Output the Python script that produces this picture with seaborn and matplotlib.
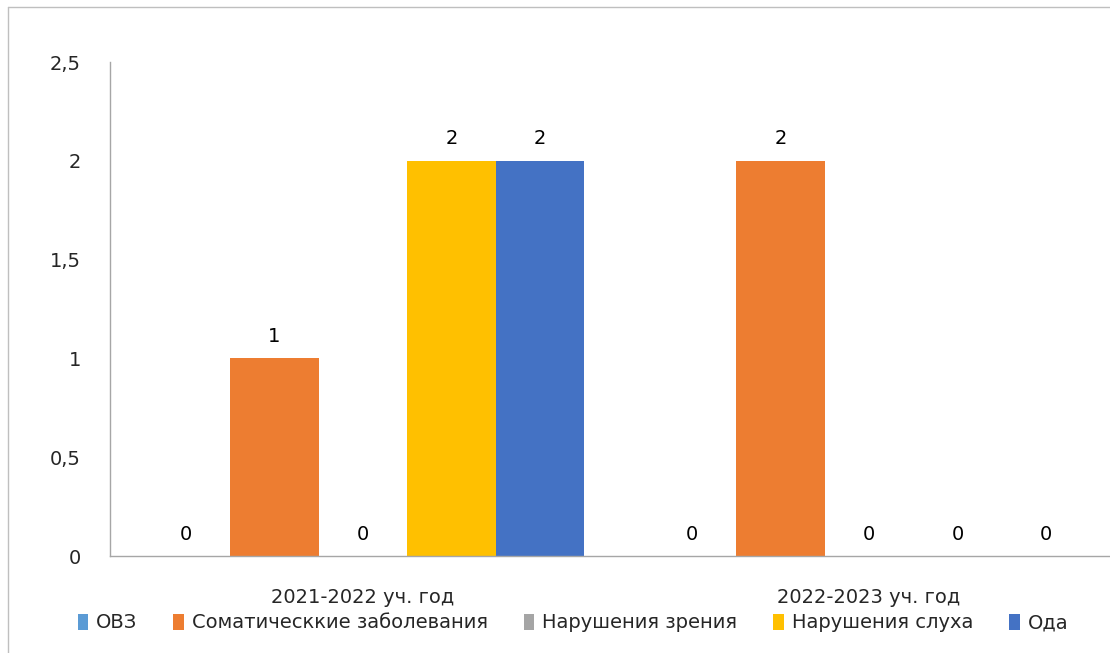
import matplotlib
matplotlib.use("Agg")
import matplotlib.pyplot as plt
import seaborn as sns
import pandas as pd
from matplotlib.lines import Line2D

categories = ["2021-2022 уч. год", "2022-2023 уч. год"]
series_names = ["ОВЗ", "Соматическкие заболевания", "Нарушения зрения", "Нарушения слуха", "Ода"]
ovz = [0, 0]
somatic = [1, 2]
vision = [0, 0]
hearing = [2, 0]
oda = [2, 0]
colors = ["#5B9BD5", "#ED7D31", "#A5A5A5", "#FFC000", "#4472C4"]
yticks = [0, 0.5, 1, 1.5, 2, 2.5]
ytick_labels = ["0", "0,5", "1", "1,5", "2", "2,5"]

values = [ovz, somatic, vision, hearing, oda]
rows = []
for name, vals in zip(series_names, values):
    for cat, v in zip(categories, vals):
        rows.append({"cat": cat, "series": name, "value": v})
df = pd.DataFrame(rows)

sns.set_style("white")
plt.rcParams["font.family"] = ["DejaVu Sans"]
FS = 14

fig = plt.figure(figsize=(11.1, 6.53), dpi=100)
ax = fig.add_axes([110 / 1110, 97 / 653, 1 - 110 / 1110, (556 - 62) / 653])

sns.barplot(data=df, x="cat", y="value", hue="series", order=categories,
            hue_order=series_names, palette=colors, width=0.875,
            saturation=1, ax=ax, legend=True, linewidth=0)

for cont in ax.containers:
    ax.bar_label(cont, labels=[f"{int(b.get_height())}" for b in cont],
                 padding=9, fontsize=FS, color="#000000")

ax.set_xlim(-0.5, 1.476)
ax.set_ylim(0, 2.5)
ax.set_yticks(yticks)
ax.set_yticklabels(ytick_labels, fontsize=FS)
ax.tick_params(axis="y", length=0, pad=21)
ax.tick_params(axis="x", length=0, pad=23, labelsize=FS)
ax.set_xlabel("")
ax.set_ylabel("")
for s in ["top", "right"]:
    ax.spines[s].set_visible(False)
for s in ["left", "bottom"]:
    ax.spines[s].set_color("#A6A6A6")
    ax.spines[s].set_linewidth(1)

handles, labels = ax.get_legend_handles_labels()
ax.get_legend().remove()
fig.legend(handles, labels, loc="center", bbox_to_anchor=(0.516, 1 - 623 / 653),
           ncol=5, frameon=False, fontsize=FS, handlelength=0.55, handleheight=0.85,
           handletextpad=0.4, columnspacing=1.85)

# chart border
fig.add_artist(Line2D([8 / 1110, 8 / 1110], [0, 1 - 7 / 653], color="#BFBFBF", lw=1))
fig.add_artist(Line2D([8 / 1110, 1], [1 - 7 / 653, 1 - 7 / 653], color="#BFBFBF", lw=1))

fig.savefig("out.png", dpi=100)
